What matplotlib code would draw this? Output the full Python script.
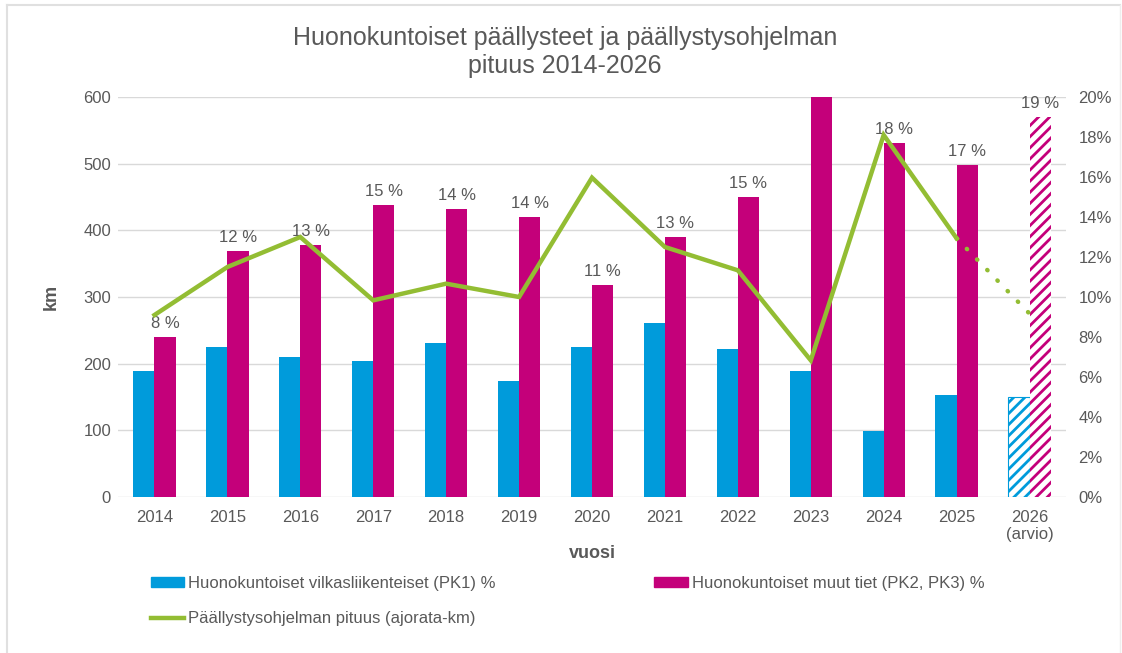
import matplotlib
matplotlib.use("Agg")
import matplotlib.pyplot as plt
import numpy as np
from matplotlib.lines import Line2D
from matplotlib.patches import Patch

plt.rcParams['font.family'] = ['Liberation Sans', 'DejaVu Sans']
plt.rcParams['hatch.linewidth'] = 2.0

# ---- data ----
years = ["2014", "2015", "2016", "2017", "2018", "2019", "2020",
         "2021", "2022", "2023", "2024", "2025", "2026\n(arvio)"]
pk1_pct = [6.3, 7.5, 7.0, 6.8, 7.7, 5.8, 7.5, 8.7, 7.4, 6.3, 3.3, 5.1, 5.0]
pk23_pct = [8.0, 12.3, 12.6, 14.6, 14.4, 14.0, 10.6, 13.0, 15.0, 20.4, 17.7, 16.6, 19.0]
program_km = [273, 345, 390, 295, 320, 300, 479, 375, 340, 205, 543, 388, 275]
estimate_flags = [False] * 12 + [True]

legend_labels = ["Huonokuntoiset vilkasliikenteiset (PK1) %",
                 "Huonokuntoiset muut tiet (PK2, PK3) %",
                 "Päällystysohjelman pituus (ajorata-km)"]
title = "Huonokuntoiset päällysteet ja päällystysohjelman\npituus 2014-2026"

# ---- style ----
BLUE = "#009BDB"
MAGENTA = "#C4007A"
GREEN = "#93BD33"
TXT = "#595959"
GRID = "#D9D9D9"

W, H = 1122, 653
fig = plt.figure(figsize=(W / 100, H / 100), dpi=100)
L, R, T, B = 118, 1066, 97, 497
rect = [L / W, 1 - B / H, (R - L) / W, (B - T) / H]

ax = fig.add_axes(rect)            # km axis, grid
ax2 = ax.twinx()                   # percent axis, bars
ax3 = ax.twinx()                   # km axis, line

x = np.arange(len(years))
bw = 0.29

ax.set_xlim(-0.5, len(years) - 0.5)
ax.set_ylim(0, 600)
ax.set_yticks(np.arange(0, 601, 100))
ax.grid(axis='y', color=GRID, linewidth=1.0)
ax.set_axisbelow(True)
ax.set_xticks(x)
ax.set_xticklabels(years)
ax.tick_params(axis='both', length=0, labelsize=12, colors=TXT)
ax.tick_params(axis='x', pad=9)
ax.tick_params(axis='y', pad=5)
for s in ax.spines.values():
    s.set_visible(False)
ax.set_ylabel("km", fontsize=13, fontweight='bold', color=TXT, labelpad=17)
ax.set_xlabel("vuosi", fontsize=13, fontweight='bold', color=TXT, labelpad=2)

# bars
ax2.set_ylim(0, 20)
ax2.set_yticks(np.arange(0, 21, 2))
ax2.set_yticklabels([f"{v}%" for v in range(0, 21, 2)])
ax2.tick_params(axis='y', length=0, labelsize=12, colors=TXT, pad=9)
for s in ax2.spines.values():
    s.set_visible(False)

for i in range(len(years)):
    if estimate_flags[i]:
        ax2.bar(x[i] - bw / 2, pk1_pct[i], bw, facecolor='white', edgecolor=BLUE,
                hatch='///', linewidth=0.8)
        ax2.bar(x[i] + bw / 2, pk23_pct[i], bw, facecolor='white', edgecolor=MAGENTA,
                hatch='///', linewidth=0)
    else:
        ax2.bar(x[i] - bw / 2, pk1_pct[i], bw, color=BLUE, linewidth=0)
        ax2.bar(x[i] + bw / 2, pk23_pct[i], bw, color=MAGENTA, linewidth=0)
    if pk23_pct[i] <= 20:
        ax2.annotate(f"{pk23_pct[i]:.0f} %", (x[i] + bw / 2, pk23_pct[i]),
                     xytext=(0, 4), textcoords='offset points', ha='center',
                     va='bottom', fontsize=12, color=TXT)

# line
ax3.set_ylim(0, 600)
ax3.set_yticks([])
for s in ax3.spines.values():
    s.set_visible(False)
n_act = 12
ax3.plot(x[:n_act], program_km[:n_act], color=GREEN, linewidth=3.2,
         solid_joinstyle='miter')
ax3.plot(x[n_act - 1:], program_km[n_act - 1:], color=GREEN, linewidth=3.2,
         linestyle=(0, (0.1, 3.2)), dash_capstyle='round')
ax3.set_zorder(ax2.get_zorder() + 1)

# title
fig.text(565 / W, 1 - 52 / H, title, ha='center', va='center', fontsize=18,
         color=TXT, linespacing=1.2)

# legend
handles = [Patch(color=BLUE), Line2D([], [], color=GREEN, linewidth=3.2),
           Patch(color=MAGENTA)]
labs = [legend_labels[0], legend_labels[2], legend_labels[1]]
fig.legend(handles, labs, ncol=2, loc='upper left',
           bbox_to_anchor=(151 / W, 1 - 576 / H), frameon=False,
           fontsize=12, labelcolor=TXT, handlelength=2.0, handleheight=0.5,
           handletextpad=0.25, columnspacing=9.5, labelspacing=1.2,
           borderpad=0, borderaxespad=0)

# outer frame lines
fig.add_artist(Line2D([7 / W, 7 / W], [0, 1 - 5 / H], transform=fig.transFigure,
                      color="#E0E0E0", linewidth=1.5))
fig.add_artist(Line2D([7 / W, 1120 / W], [1 - 5 / H, 1 - 5 / H],
                      transform=fig.transFigure, color="#E0E0E0", linewidth=1.5))
fig.add_artist(Line2D([1120 / W, 1120 / W], [0, 1 - 5 / H], transform=fig.transFigure,
                      color="#EEEEEE", linewidth=1.0))

fig.savefig("out.png", dpi=100)
